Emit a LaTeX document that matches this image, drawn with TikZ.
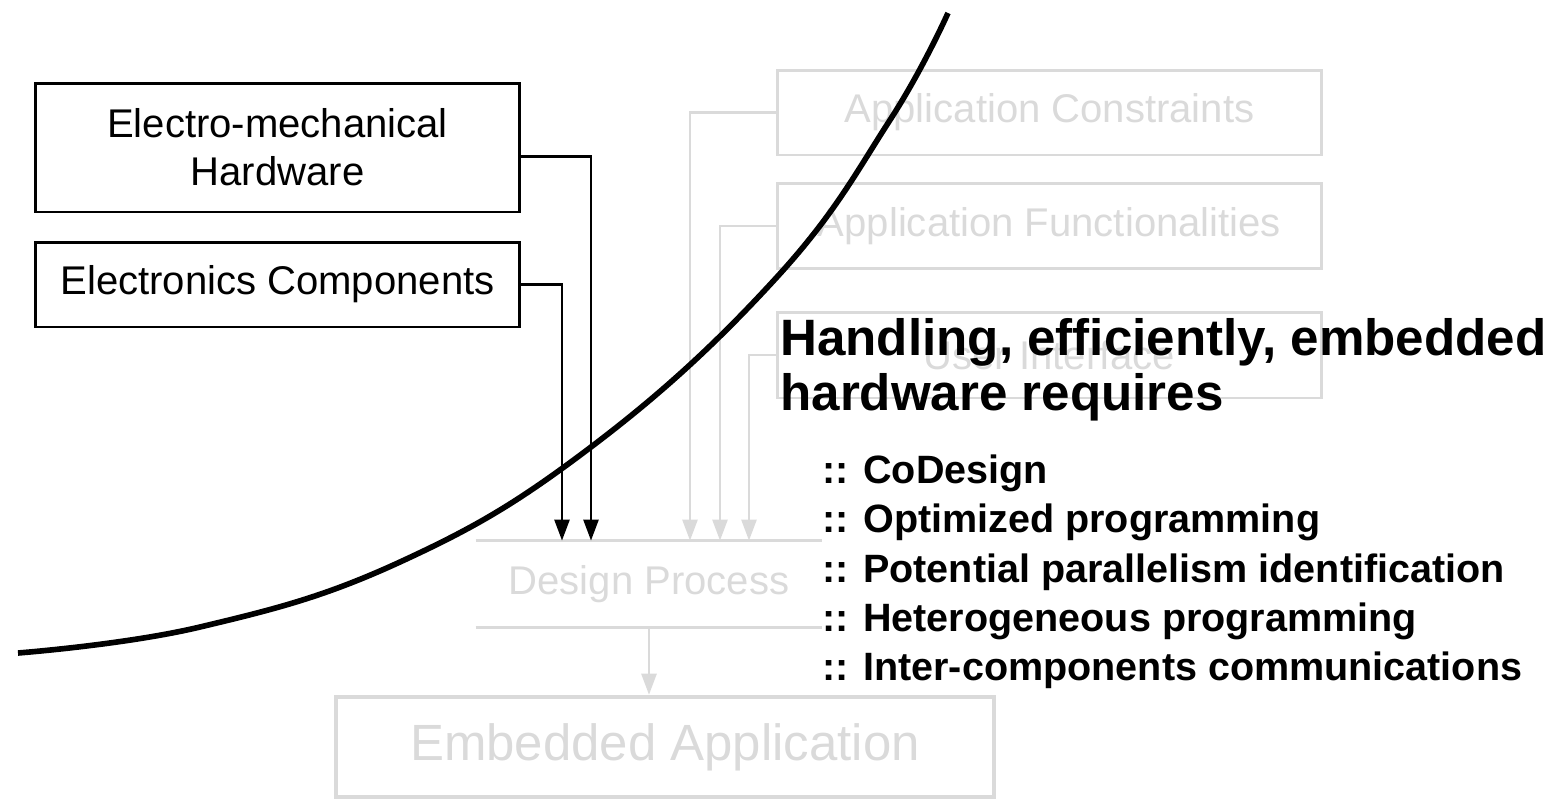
\documentclass[tikz,border=0pt]{standalone}
\usepackage{fontspec}
\setmainfont{Liberation Sans}
\usetikzlibrary{arrows.meta,calc}
\definecolor{faded}{RGB}{218,218,218}

\begin{document}
\begin{tikzpicture}
        [x=0.02cm, y=-0.02cm,
        hwbox/.style={draw=black, line width=1.7pt, minimum width=9.7cm, font=\fontsize{22.8}{27.3}\selectfont, align=center},
        appbox/.style={draw=faded, line width=1.7pt, text=faded, minimum width=10.9cm, minimum height=1.7cm, font=\fontsize{22.8}{27.3}\selectfont},
        link/.style={black, line width=1.6pt, -{Triangle[length=12pt, width=8.5pt]}},
        glink/.style={faded, line width=1.6pt, -{Triangle[length=12pt, width=8.5pt]}},
        gline/.style={faded, line width=1.7pt},
        curve/.style={black, line width=3.2pt},
        inner sep=0pt]

        \useasboundingbox (0,0) rectangle (1563,802);

        % hardware side
        \node[hwbox, minimum height=2.58cm] (emh) at (277.5, 147.5) {Electro-mechanical\\Hardware};
        \node[hwbox, minimum height=1.7cm] (ec) at (277.5, 284.5) {Electronics Components};

        % application side (faded)
        \node[appbox] (ac) at (1049.5, 112.5) {Application Constraints};
        \node[appbox] (af) at (1049.5, 226) {Application Functionalities};
        \node[appbox, minimum height=1.72cm] (ui) at (1049.5, 355) {User Interface};

        \node[text=faded, minimum width=6.92cm, minimum height=1.72cm, font=\fontsize{22.8}{27.3}\selectfont] (design) at (649, 584) {Design Process};
        \node[draw=faded, line width=2.5pt, text=faded, minimum width=13.16cm, minimum height=2cm, font=\fontsize{29}{34}\selectfont] (ea) at (665, 747) {Embedded Application};

        \draw[gline] (design.north west) -- (design.north east);
        \draw[gline] (design.south west) -- (design.south east);

        % connectors
        \draw[link] ($(emh.east)+(0,9)$) -| ($(design.north)+(-58,0)$);
        \draw[link] (ec.east) -| ($(design.north)+(-87,0)$);
        \draw[glink] (ac.west) -| ($(design.north)+(41,0)$);
        \draw[glink] (af.west) -| ($(design.north)+(71,0)$);
        \draw[glink] (ui.west) -| ($(design.north)+(100,0)$);
        \draw[glink] (design.south) -- (design.south |- ea.north);

        % statement
        \node[anchor=west, align=left, font=\bfseries\fontsize{29.1}{31.3}\selectfont] (head) at (780, 370) {Handling, efficiently, embedded\\hardware requires};
        \node[anchor=west, align=left, font=\bfseries\fontsize{22.5}{28.1}\selectfont] (req) at (822, 572) {:: CoDesign\\:: Optimized programming\\:: Potential parallelism identification\\:: Heterogeneous programming\\:: Inter-components communications};

        % the curve
        \draw[curve] plot[smooth, tension=0.7] coordinates {(18,653) (200,627) (400,562) (591,447) (777,277) (890,120) (948,13)};

    \end{tikzpicture}
\end{document}
